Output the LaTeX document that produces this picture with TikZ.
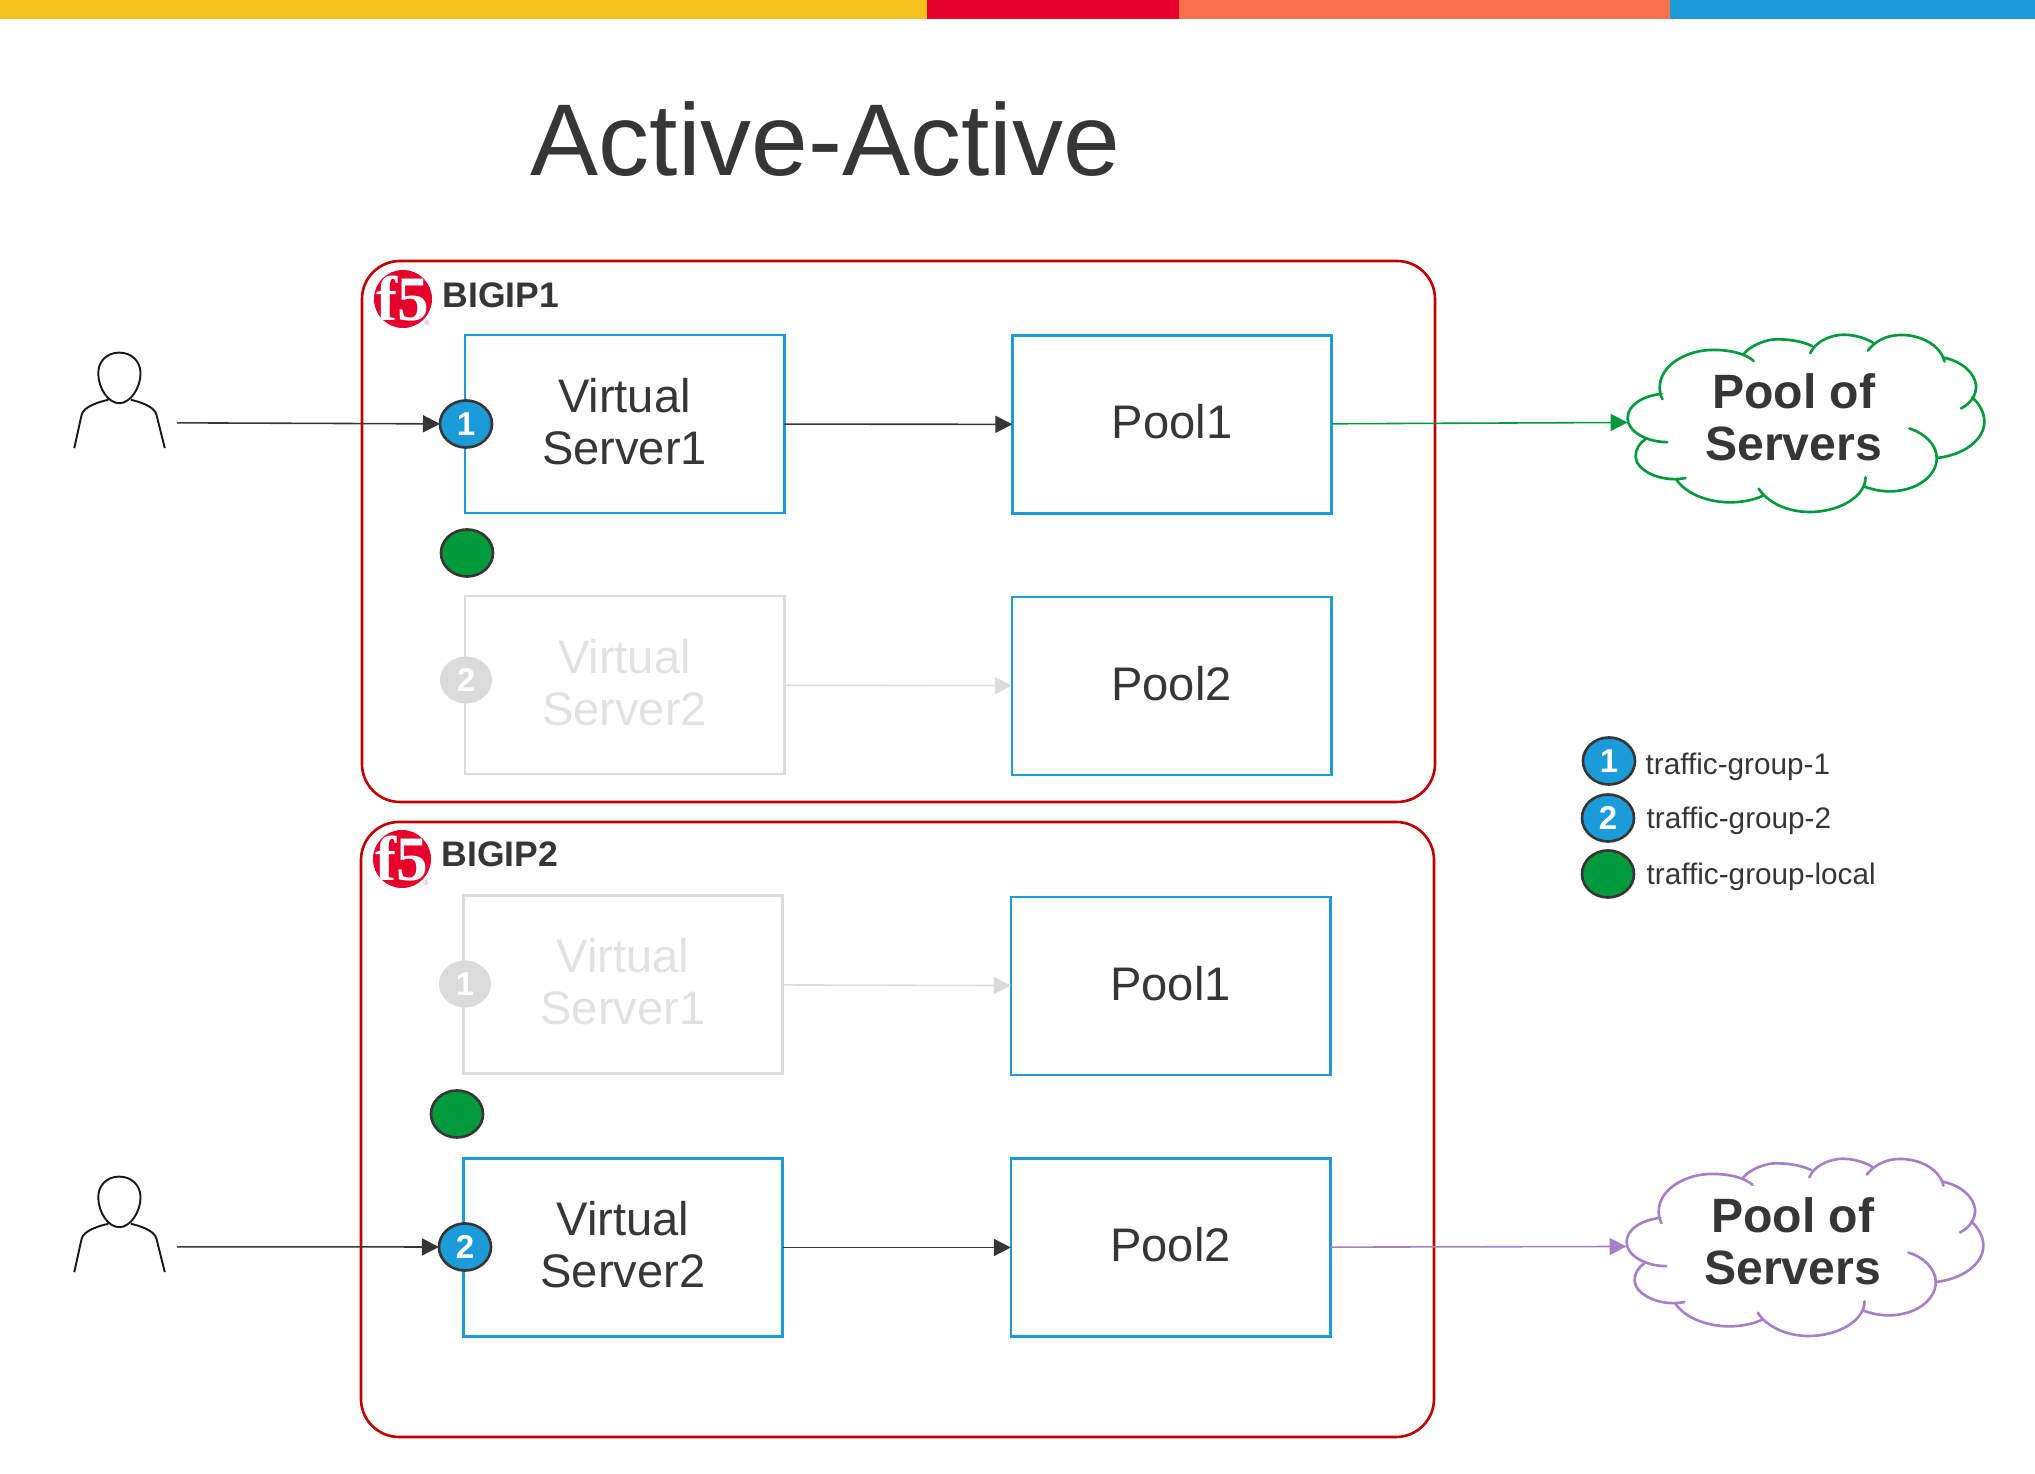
\documentclass[tikz,border=0pt]{standalone}
\usepackage{fontspec}
\setmainfont{Liberation Sans}
\newfontfamily\logofont{Liberation Serif}
\usetikzlibrary{shapes.geometric,arrows.meta}
\definecolor{ink}{HTML}{363636}
\definecolor{bluebox}{HTML}{1B9BD7}
\definecolor{redbox}{HTML}{C00000}
\definecolor{logored}{HTML}{E4002B}
\definecolor{greenline}{HTML}{009A3D}
\definecolor{purpleline}{HTML}{A67FC8}
\definecolor{dimline}{HTML}{DBDBDB}
\definecolor{dimtext}{HTML}{E2E2E2}
\tikzset{
  unit/.style={x=0.01cm,y=-0.01cm},
  devicebox/.style={draw=redbox,line width=0.75pt,rounded corners=0.38cm},
  vsbox/.style={draw=bluebox,line width=0.8pt,minimum width=3.19cm,minimum height=1.78cm,outer sep=0pt,
    align=center,text depth=0.06cm,font=\fontsize{13.4}{14.8}\selectfont,text=ink},
  dimbox/.style={vsbox,draw=dimline,text=dimtext},
  badge/.style={ellipse,draw=ink,fill=bluebox,line width=0.75pt,minimum width=0.52cm,minimum height=0.47cm,
    inner sep=0pt,outer sep=0pt,text=white,font=\fontsize{9.4}{10}\selectfont\bfseries},
  localbadge/.style={badge,fill=greenline},
  dimbadge/.style={badge,draw=none,fill=dimline},
  flow/.style={draw=ink,line width=0.45pt,-{Triangle[length=0.17cm,width=0.17cm]}},
  dimflow/.style={flow,draw=dimline},
  outflow/.style={flow,draw=#1},
  devicename/.style={anchor=base west,inner sep=0pt,text=ink,font=\fontsize{10.1}{11}\selectfont\bfseries},
  legendname/.style={anchor=base west,inner sep=0pt,text=ink,font=\fontsize{8.45}{10}\selectfont},
  pooltext/.style={align=center,text=ink,font=\fontsize{13.7}{14.8}\selectfont\bfseries}
}
% the outline is taken in thirds of a unit
\newcommand{\serverscloud}[4]{
\begin{scope}[shift={(#2,#3)},x=0.003333cm,y=-0.003333cm]
\draw[draw=#4,line width=0.75pt,line cap=round]
  (248,268) .. controls (242,258) and (238,240) .. (240,225) .. controls (245,165) and (320,120) .. (400,120) .. controls (450,120) and (495,130) .. (522,153)
  (245,252) .. controls (190,258) and (143,285) .. (143,325) .. controls (143,365) and (200,397) .. (262,397)
  (197,388) .. controls (178,400) and (167,420) .. (167,440) .. controls (167,480) and (240,520) .. (317,505)
  (290,510) .. controls (320,555) and (390,578) .. (450,578) .. controls (490,578) and (525,570) .. (550,558)
  (537,537) .. controls (565,580) and (625,607) .. (690,607) .. controls (780,607) and (858,560) .. (858,503)
  (852,530) .. controls (880,540) and (905,545) .. (930,545) .. controls (1010,545) and (1072,500) .. (1072,445)
  (990,356) .. controls (1035,370) and (1072,405) .. (1072,445)
  (1072,445) .. controls (1155,435) and (1215,390) .. (1215,335) .. controls (1215,310) and (1200,280) .. (1178,263)
  (1145,296) .. controls (1175,280) and (1192,255) .. (1190,225) .. controls (1185,190) and (1150,155) .. (1092,143)
  (1095,155) .. controls (1085,110) and (1030,75) .. (965,75) .. controls (920,75) and (885,95) .. (865,122)
  (880,98) .. controls (850,80) and (810,72) .. (780,75) .. controls (740,80) and (705,100) .. (692,130)
  (697,108) .. controls (660,90) and (600,85) .. (570,90) .. controls (530,100) and (505,115) .. (490,135);
\coordinate (#1) at (143,338);
\node[pooltext] (#1text) at (642,322) {Pool of\\Servers};
\end{scope}
}
% a person, drawn in thirds of a unit as well
\newcommand{\userfigure}[3]{
\begin{scope}[shift={(#2,#3)},x=0.003333cm,y=-0.003333cm]
\draw[black!90,line width=0.55pt]
  (208,68) .. controls (170,68) and (145,95) .. (145,130) .. controls (145,175) and (175,220) .. (208,220)
  .. controls (241,220) and (272,175) .. (272,130) .. controls (272,95) and (246,68) .. (208,68)
  (175,210) .. controls (150,215) and (100,230) .. (95,255) -- (73,355)
  (243,210) .. controls (268,215) and (315,230) .. (320,255) -- (345,355);
\coordinate (#1) at (381,279);
\end{scope}
}
\newcommand{\ffivelogo}[3]{
\fill[logored] (#2,#3) circle [radius=0.29cm];
\node[text=white,inner sep=0pt,font=\logofont\bfseries\fontsize{18}{18}\selectfont] (#1) at (#2,#3) {f5};
\node[text=logored!50,inner sep=0pt,font=\fontsize{2}{2}\selectfont] (#1r) at ([xshift=0.24cm,yshift=-0.24cm]#1.center) {®};
}
\begin{document}
\begin{tikzpicture}[unit]
\useasboundingbox (0,0) rectangle (2035,1474);

%draw the bar on top
\fill[fill={rgb,255:red,246;green,195;blue,28}] (0,0) rectangle (927,19);
\fill[logored] (927,0) rectangle (1179,19);
\fill[fill={rgb,255:red,248;green,115;blue,77}] (1179,0) rectangle (1670,19);
\fill[bluebox] (1670,0) rectangle (2035,19);
\node[text=ink,font=\fontsize{29}{30}\selectfont] (title) at (825.5,139.5) {Active-Active};

%draw the two devices
\draw[devicebox] (362,261) rectangle (1435,802);
\draw[devicebox] (361,822) rectangle (1434,1437);
\ffivelogo{logoA}{403}{299}
\ffivelogo{logoB}{402}{859}
\node[devicename] (nameA) at (442,308) {BIGIP1};
\node[devicename] (nameB) at (441,867) {BIGIP2};

%first device
\node[vsbox] (vsAone) at (624.5,424) {Virtual\\Server1};
\node[dimbox] (vsAtwo) at (624.5,685) {Virtual\\Server2};
\node[vsbox] (poolAone) at (1172,424.5) {Pool1};
\node[vsbox] (poolAtwo) at (1171.5,686) {Pool2};
\node[badge] (tgAone) at (466,424) {1};
\node[localbadge] (tgAlocal) at (467,553) {};
\node[dimbadge] (tgAtwo) at (466,680) {2};

%second device
\node[dimbox] (vsBone) at (623,984.5) {Virtual\\Server1};
\node[vsbox] (vsBtwo) at (623,1247.5) {Virtual\\Server2};
\node[vsbox] (poolBone) at (1170.5,986) {Pool1};
\node[vsbox] (poolBtwo) at (1170.5,1247.5) {Pool2};
\node[dimbadge] (tgBone) at (465,984) {1};
\node[localbadge] (tgBlocal) at (457,1114) {};
\node[badge] (tgBtwo) at (465,1247) {2};

%draw the clouds and the users
\serverscloud{cloudA}{1580}{310}{greenline}
\serverscloud{cloudB}{1579}{1134}{purpleline}
\userfigure{userA}{50}{330}
\userfigure{userB}{50}{1154}

%draw the connectors
\draw[flow] (userA) -- (tgAone);
\draw[flow] (vsAone) -- (poolAone);
\draw[outflow=greenline] (poolAone) -- (cloudA);
\draw[dimflow] (vsAtwo) -- (poolAtwo);
\draw[dimflow] (vsBone) -- (poolBone);
\draw[flow] (userB) -- (tgBtwo);
\draw[flow] (vsBtwo) -- (poolBtwo);
\draw[outflow=purpleline] (poolBtwo) -- (cloudB);

%legend
\node[badge] (keyone) at (1609,761) {1};
\node[badge] (keytwo) at (1608,818) {2};
\node[localbadge] (keylocal) at (1608,874) {};
\node[legendname] (keyonetext) at (1645,775) {traffic-group-1};
\node[legendname] (keytwotext) at (1646,829) {traffic-group-2};
\node[legendname] (keylocaltext) at (1646,885) {traffic-group-local};

\end{tikzpicture}
\end{document}
